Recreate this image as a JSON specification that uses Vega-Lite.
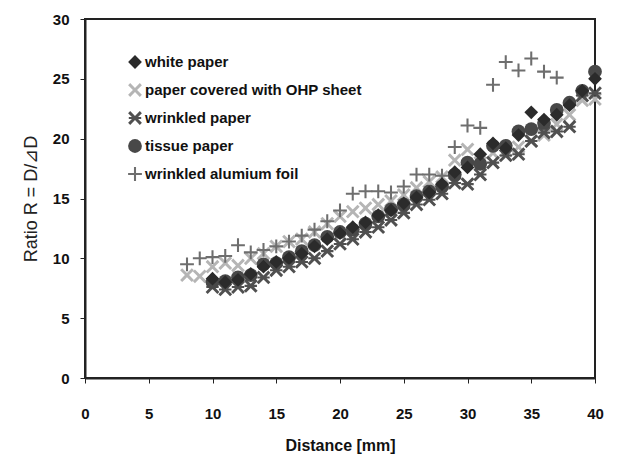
{
  "$schema": "https://vega.github.io/schema/vega-lite/v6.json",
  "autosize": {"type": "none"},
  "padding": {"left": 85, "top": 19, "right": 27, "bottom": 80},
  "width": 510,
  "height": 359,
  "background": "white",
  "config": {
    "view": {"stroke": "#222", "strokeWidth": 2},
    "font": "Liberation Sans"
  },
  "data": {"values": [
    {"s":"paper covered with OHP sheet","x":8,"y":8.6},{"s":"paper covered with OHP sheet","x":9,"y":8.5},{"s":"paper covered with OHP sheet","x":10,"y":9.3},{"s":"paper covered with OHP sheet","x":11,"y":9.6},{"s":"paper covered with OHP sheet","x":12,"y":9.4},{"s":"paper covered with OHP sheet","x":13,"y":10.0},{"s":"paper covered with OHP sheet","x":14,"y":10.4},{"s":"paper covered with OHP sheet","x":15,"y":11.0},{"s":"paper covered with OHP sheet","x":16,"y":11.4},{"s":"paper covered with OHP sheet","x":17,"y":11.6},{"s":"paper covered with OHP sheet","x":18,"y":12.2},{"s":"paper covered with OHP sheet","x":19,"y":12.9},{"s":"paper covered with OHP sheet","x":20,"y":13.5},{"s":"paper covered with OHP sheet","x":21,"y":13.9},{"s":"paper covered with OHP sheet","x":22,"y":14.2},{"s":"paper covered with OHP sheet","x":23,"y":14.5},{"s":"paper covered with OHP sheet","x":24,"y":14.8},{"s":"paper covered with OHP sheet","x":25,"y":15.3},{"s":"paper covered with OHP sheet","x":26,"y":15.9},{"s":"paper covered with OHP sheet","x":27,"y":16.4},{"s":"paper covered with OHP sheet","x":28,"y":16.8},{"s":"paper covered with OHP sheet","x":29,"y":18.2},{"s":"paper covered with OHP sheet","x":30,"y":19.1},{"s":"paper covered with OHP sheet","x":31,"y":18.0},{"s":"paper covered with OHP sheet","x":32,"y":18.8},{"s":"paper covered with OHP sheet","x":33,"y":19.0},{"s":"paper covered with OHP sheet","x":34,"y":19.3},{"s":"paper covered with OHP sheet","x":35,"y":19.8},{"s":"paper covered with OHP sheet","x":36,"y":20.3},{"s":"paper covered with OHP sheet","x":37,"y":21.2},{"s":"paper covered with OHP sheet","x":38,"y":22.0},{"s":"paper covered with OHP sheet","x":39,"y":23.2},{"s":"paper covered with OHP sheet","x":40,"y":23.3},
    {"s":"wrinkled alumium foil","x":8,"y":9.5},{"s":"wrinkled alumium foil","x":9,"y":10.0},{"s":"wrinkled alumium foil","x":10,"y":10.1},{"s":"wrinkled alumium foil","x":11,"y":10.2},{"s":"wrinkled alumium foil","x":12,"y":11.1},{"s":"wrinkled alumium foil","x":13,"y":10.5},{"s":"wrinkled alumium foil","x":14,"y":10.7},{"s":"wrinkled alumium foil","x":15,"y":11.0},{"s":"wrinkled alumium foil","x":16,"y":11.4},{"s":"wrinkled alumium foil","x":17,"y":11.9},{"s":"wrinkled alumium foil","x":18,"y":12.4},{"s":"wrinkled alumium foil","x":19,"y":13.1},{"s":"wrinkled alumium foil","x":20,"y":14.0},{"s":"wrinkled alumium foil","x":21,"y":15.4},{"s":"wrinkled alumium foil","x":22,"y":15.6},{"s":"wrinkled alumium foil","x":23,"y":15.6},{"s":"wrinkled alumium foil","x":24,"y":15.5},{"s":"wrinkled alumium foil","x":25,"y":16.0},{"s":"wrinkled alumium foil","x":26,"y":17.0},{"s":"wrinkled alumium foil","x":27,"y":17.0},{"s":"wrinkled alumium foil","x":28,"y":16.9},{"s":"wrinkled alumium foil","x":29,"y":19.3},{"s":"wrinkled alumium foil","x":30,"y":21.1},{"s":"wrinkled alumium foil","x":31,"y":20.9},{"s":"wrinkled alumium foil","x":32,"y":24.5},{"s":"wrinkled alumium foil","x":33,"y":26.4},{"s":"wrinkled alumium foil","x":34,"y":25.7},{"s":"wrinkled alumium foil","x":35,"y":26.7},{"s":"wrinkled alumium foil","x":36,"y":25.6},{"s":"wrinkled alumium foil","x":37,"y":25.1},
    {"s":"wrinkled paper","x":10,"y":7.6},{"s":"wrinkled paper","x":11,"y":7.4},{"s":"wrinkled paper","x":12,"y":7.6},{"s":"wrinkled paper","x":13,"y":7.7},{"s":"wrinkled paper","x":14,"y":8.4},{"s":"wrinkled paper","x":15,"y":9.0},{"s":"wrinkled paper","x":16,"y":9.3},{"s":"wrinkled paper","x":17,"y":9.7},{"s":"wrinkled paper","x":18,"y":10.0},{"s":"wrinkled paper","x":19,"y":10.6},{"s":"wrinkled paper","x":20,"y":11.2},{"s":"wrinkled paper","x":21,"y":11.6},{"s":"wrinkled paper","x":22,"y":12.2},{"s":"wrinkled paper","x":23,"y":12.6},{"s":"wrinkled paper","x":24,"y":13.2},{"s":"wrinkled paper","x":25,"y":13.8},{"s":"wrinkled paper","x":26,"y":14.5},{"s":"wrinkled paper","x":27,"y":14.9},{"s":"wrinkled paper","x":28,"y":15.4},{"s":"wrinkled paper","x":29,"y":16.3},{"s":"wrinkled paper","x":30,"y":16.2},{"s":"wrinkled paper","x":31,"y":17.0},{"s":"wrinkled paper","x":32,"y":18.0},{"s":"wrinkled paper","x":33,"y":18.6},{"s":"wrinkled paper","x":34,"y":18.7},{"s":"wrinkled paper","x":35,"y":19.8},{"s":"wrinkled paper","x":36,"y":20.5},{"s":"wrinkled paper","x":37,"y":20.6},{"s":"wrinkled paper","x":38,"y":21.0},{"s":"wrinkled paper","x":39,"y":23.6},{"s":"wrinkled paper","x":40,"y":23.8},
    {"s":"tissue paper","x":10,"y":8.0},{"s":"tissue paper","x":11,"y":8.1},{"s":"tissue paper","x":12,"y":8.4},{"s":"tissue paper","x":13,"y":8.6},{"s":"tissue paper","x":14,"y":9.5},{"s":"tissue paper","x":15,"y":9.6},{"s":"tissue paper","x":16,"y":10.1},{"s":"tissue paper","x":17,"y":10.6},{"s":"tissue paper","x":18,"y":11.1},{"s":"tissue paper","x":19,"y":11.8},{"s":"tissue paper","x":20,"y":12.2},{"s":"tissue paper","x":21,"y":12.4},{"s":"tissue paper","x":22,"y":12.9},{"s":"tissue paper","x":23,"y":13.5},{"s":"tissue paper","x":24,"y":14.1},{"s":"tissue paper","x":25,"y":14.5},{"s":"tissue paper","x":26,"y":15.2},{"s":"tissue paper","x":27,"y":15.6},{"s":"tissue paper","x":28,"y":16.0},{"s":"tissue paper","x":29,"y":17.0},{"s":"tissue paper","x":30,"y":18.0},{"s":"tissue paper","x":31,"y":17.9},{"s":"tissue paper","x":32,"y":19.4},{"s":"tissue paper","x":33,"y":19.4},{"s":"tissue paper","x":34,"y":20.6},{"s":"tissue paper","x":35,"y":20.8},{"s":"tissue paper","x":36,"y":21.3},{"s":"tissue paper","x":37,"y":22.4},{"s":"tissue paper","x":38,"y":23.0},{"s":"tissue paper","x":39,"y":24.0},{"s":"tissue paper","x":40,"y":25.6},
    {"s":"white paper","x":10,"y":8.3},{"s":"white paper","x":11,"y":8.0},{"s":"white paper","x":12,"y":8.2},{"s":"white paper","x":13,"y":8.7},{"s":"white paper","x":14,"y":9.3},{"s":"white paper","x":15,"y":9.7},{"s":"white paper","x":16,"y":10.0},{"s":"white paper","x":17,"y":10.4},{"s":"white paper","x":18,"y":11.0},{"s":"white paper","x":19,"y":11.6},{"s":"white paper","x":20,"y":12.1},{"s":"white paper","x":21,"y":12.6},{"s":"white paper","x":22,"y":13.0},{"s":"white paper","x":23,"y":13.6},{"s":"white paper","x":24,"y":14.0},{"s":"white paper","x":25,"y":14.6},{"s":"white paper","x":26,"y":15.1},{"s":"white paper","x":27,"y":15.5},{"s":"white paper","x":28,"y":16.2},{"s":"white paper","x":29,"y":17.2},{"s":"white paper","x":30,"y":17.6},{"s":"white paper","x":31,"y":18.7},{"s":"white paper","x":32,"y":19.6},{"s":"white paper","x":33,"y":19.2},{"s":"white paper","x":34,"y":20.3},{"s":"white paper","x":35,"y":22.2},{"s":"white paper","x":36,"y":21.6},{"s":"white paper","x":37,"y":22.0},{"s":"white paper","x":38,"y":22.8},{"s":"white paper","x":39,"y":24.0},{"s":"white paper","x":40,"y":25.0}
  ]},
  "mark": {"type": "point", "filled": true, "opacity": 1, "size": 190},
  "encoding": {
    "x": {
      "field": "x", "type": "quantitative",
      "scale": {"domain": [0, 40], "nice": false, "zero": false},
      "axis": {
        "title": "Distance [mm]", "values": [0,5,10,15,20,25,30,35,40],
        "grid": false, "domainColor": "#222", "domainWidth": 2,
        "tickColor": "#222", "tickSize": 5, "tickWidth": 1, "ticks": true,
        "labelFont": "Liberation Sans", "labelFontSize": 15, "labelFontWeight": "bold",
        "labelColor": "#111", "labelPadding": 23, "labelFlush": false,
        "titleFont": "Liberation Sans", "titleFontSize": 16, "titleFontWeight": "bold",
        "titleColor": "#111", "titlePadding": 16
      }
    },
    "y": {
      "field": "y", "type": "quantitative",
      "scale": {"domain": [0, 30], "nice": false, "zero": false},
      "axis": {
        "title": "Ratio R = D/⊿D", "values": [0,5,10,15,20,25,30],
        "grid": false, "domainColor": "#222", "domainWidth": 2,
        "tickColor": "#222", "tickSize": 5, "tickWidth": 1, "ticks": true,
        "labelFont": "Liberation Sans", "labelFontSize": 15, "labelFontWeight": "bold",
        "labelColor": "#111", "labelPadding": 11, "labelFlush": false,
        "titleFont": "Liberation Sans", "titleFontSize": 18, "titleFontWeight": "normal",
        "titleColor": "#222", "titlePadding": 12
      }
    },
    "color": {
      "field": "s", "type": "nominal",
      "scale": {
        "domain": ["white paper","paper covered with OHP sheet","wrinkled paper","tissue paper","wrinkled alumium foil"],
        "range": ["#2b2b2b","#b5b5b5","#505050","#484848","#6e6e6e"]
      },
      "legend": {
        "orient": "none", "legendX": 42, "legendY": 35, "title": null,
        "labelFont": "Liberation Sans", "labelFontSize": 15, "labelFontWeight": "bold",
        "labelColor": "#111", "labelOffset": 2, "rowPadding": 12, "symbolSize": 190,
        "symbolOpacity": 1, "labelLimit": 400
      }
    },
    "shape": {
      "field": "s", "type": "nominal",
      "scale": {
        "domain": ["white paper","paper covered with OHP sheet","wrinkled paper","tissue paper","wrinkled alumium foil"],
        "range": [
          "diamond",
          "M-1,-0.7L-0.7,-1L0,-0.3L0.7,-1L1,-0.7L0.3,0L1,0.7L0.7,1L0,0.3L-0.7,1L-1,0.7L-0.3,0Z",
          "M-1,-0.7L-0.7,-1L0,-0.3L0.7,-1L1,-0.7L0.3,0L1,0.7L0.7,1L0,0.3L-0.7,1L-1,0.7L-0.3,0ZM-0.9,-0.15L0.9,-0.15L0.9,0.15L-0.9,0.15Z",
          "circle",
          "M-0.15,-1L0.15,-1L0.15,-0.15L1,-0.15L1,0.15L0.15,0.15L0.15,1L-0.15,1L-0.15,0.15L-1,0.15L-1,-0.15L-0.15,-0.15Z"
        ]
      },
      "legend": null
    }
  }
}
